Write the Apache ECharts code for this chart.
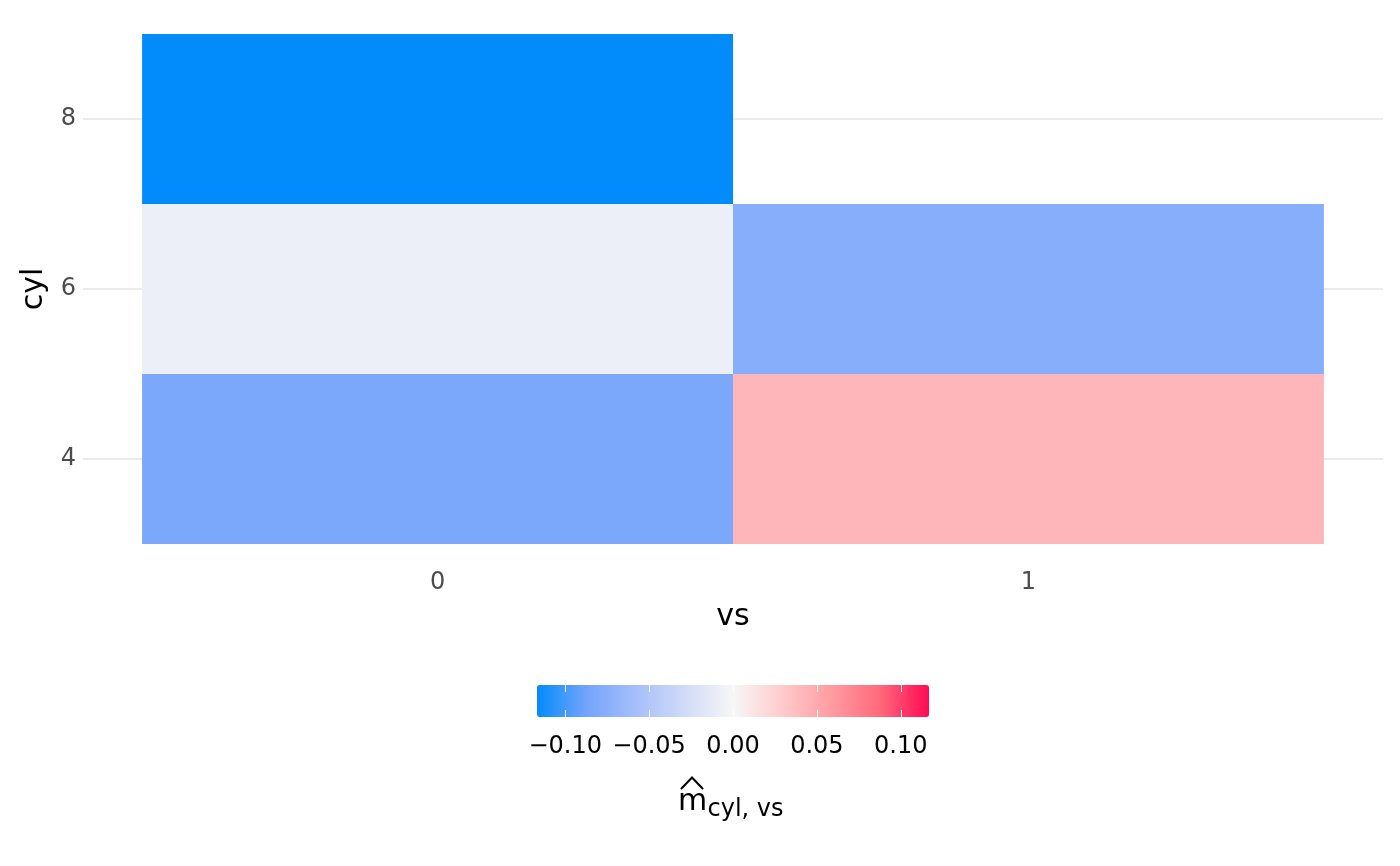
<!DOCTYPE html>
<html>
<head>
<meta charset="utf-8">
<script src="https://cdn.jsdelivr.net/npm/echarts@6/dist/echarts.min.js"></script>
<style>
html,body{margin:0;padding:0;background:#fff;}
#chart{width:1400px;height:866px;}
</style>
</head>
<body>
<div id="chart"></div>
<script>
// ---- data ----
const vsLevels = [0, 1];
const cylVs0 = [4, 6, 8];
const mVs0 = [-0.083, -0.008, -0.1168];
const cylVs1 = [4, 6];
const mVs1 = [0.042, -0.076];
const xTicks = [0, 1];
const yTicks = [4, 6, 8];
const legendTicks = [-0.10, -0.05, 0.00, 0.05, 0.10];
const legendLimit = 0.1168;
const tileW = 1, tileH = 2;

const tiles = [];
cylVs0.forEach((c, i) => tiles.push([vsLevels[0], c, mVs0[i]]));
cylVs1.forEach((c, i) => tiles.push([vsLevels[1], c, mVs1[i]]));

const FONT = 'DejaVu Sans';
const fmt = v => (v < 0 ? '\u2212' : '') + Math.abs(v).toFixed(2);

const chart = echarts.init(document.getElementById('chart'), null, {renderer: 'canvas'});
chart.setOption({
  backgroundColor: '#ffffff',
  animation: false,
  textStyle: {fontFamily: FONT},
  grid: [
    {left: 83, right: 17, top: 8.5, bottom: 296.5},
    {left: 537, width: 392, top: 685, height: 32}
  ],
  xAxis: [
    {
      type: 'value', gridIndex: 0, min: -0.6, max: 1.6,
      axisLine: {show: false}, splitLine: {show: false},
      axisTick: {show: false, customValues: xTicks},
      axisLabel: {customValues: xTicks, color: '#4D4D4D', fontSize: 24, fontFamily: FONT, margin: 1},
      name: 'vs', nameLocation: 'middle', nameGap: 33,
      nameTextStyle: {color: '#000', fontSize: 30, fontFamily: FONT}
    },
    {
      type: 'value', gridIndex: 1, min: -legendLimit, max: legendLimit, position: 'bottom', z: 10,
      axisLine: {show: false}, splitLine: {show: false},
      axisTick: {show: true, inside: true, length: 7, customValues: legendTicks, lineStyle: {color: 'rgba(255,255,255,0.9)', width: 1}},
      axisLabel: {customValues: legendTicks, formatter: fmt, color: '#000', fontSize: 24, fontFamily: FONT, margin: 18}
    },
    {
      type: 'value', gridIndex: 1, min: -legendLimit, max: legendLimit, position: 'top', z: 10,
      axisLine: {show: false}, splitLine: {show: false},
      axisTick: {show: true, inside: true, length: 7, customValues: legendTicks, lineStyle: {color: 'rgba(255,255,255,0.9)', width: 1}},
      axisLabel: {show: false}
    }
  ],
  yAxis: [
    {
      type: 'value', gridIndex: 0, min: 2.7, max: 9.3,
      axisLine: {show: false},
      axisTick: {show: false, customValues: yTicks},
      splitLine: {show: true, lineStyle: {color: '#EBEBEB', width: 2}},
      axisLabel: {customValues: yTicks, color: '#4D4D4D', fontSize: 24, fontFamily: FONT, margin: 7, padding: [4, 0, 0, 0]},
      name: 'cyl', nameLocation: 'middle', nameGap: 34, nameRotate: 90,
      nameTextStyle: {color: '#000', fontSize: 30, fontFamily: FONT}
    },
    {
      type: 'value', gridIndex: 1, min: 0, max: 1, show: false
    }
  ],
  visualMap: {
    type: 'continuous',
    seriesIndex: 0,
    dimension: 2,
    min: -legendLimit, max: legendLimit,
    orient: 'horizontal',
    left: 537, top: 685,
    itemWidth: 32, itemHeight: 392,
    padding: 0,
    calculable: false,
    hoverLink: false,
    text: null,
    showLabel: false,
    inRange: {color: ['#028BFB', '#73A4FB', '#A5BEFA', '#D0DAF8', '#F7F7F7', '#FFCBCC', '#FF9CA2', '#FF697B', '#FF0A54']}
  },
  graphic: [
    {type: 'polyline', shape: {points: [[681, 789], [692, 777.5], [703, 789]]}, style: {stroke: '#000', lineWidth: 2, fill: null}},
    {type: 'text', x: 678, y: 802, style: {text: 'm', font: '30px "DejaVu Sans"', fill: '#000', align: 'left', verticalAlign: 'middle'}},
    {type: 'text', x: 707.5, y: 810, style: {text: 'cyl, vs', font: '24px "DejaVu Sans"', fill: '#000', align: 'left', verticalAlign: 'middle'}}
  ],
  series: [
    {
      type: 'custom',
      xAxisIndex: 0, yAxisIndex: 0,
      data: tiles,
      encode: {x: 0, y: 1},
      renderItem: function (params, api) {
        const x = api.value(0), y = api.value(1);
        const p0 = api.coord([x - tileW / 2, y + tileH / 2]);
        const p1 = api.coord([x + tileW / 2, y - tileH / 2]);
        return {
          type: 'rect',
          shape: {x: p0[0], y: p0[1], width: p1[0] - p0[0], height: p1[1] - p0[1]},
          style: {fill: api.visual('color')}
        };
      }
    }
  ]
});
</script>
</body>
</html>
